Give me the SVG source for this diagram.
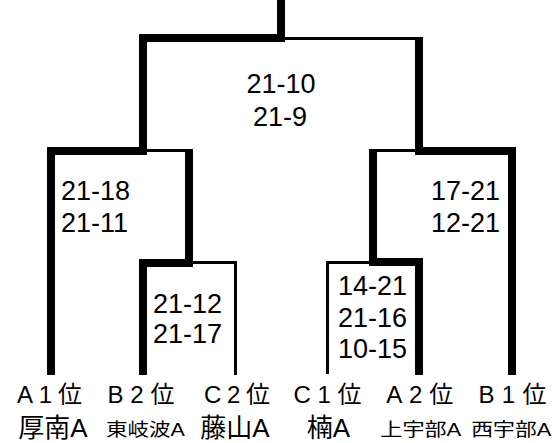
<svg xmlns="http://www.w3.org/2000/svg" width="554" height="443" viewBox="0 0 554 443">
<style>
.bg{fill:#ffffff}
.ln{fill:#000000}
.score{font-family:"Liberation Sans","Noto Sans CJK JP",sans-serif;font-size:27px;fill:#000000}
.seed{font-family:"Liberation Sans","Noto Sans CJK JP",sans-serif;font-size:24px;fill:#000000;text-anchor:middle}
.big{font-family:"Liberation Sans","Noto Sans CJK JP",sans-serif;font-size:26px;fill:#000000;text-anchor:middle}
.small{font-family:"Liberation Sans","Noto Sans CJK JP",sans-serif;font-size:18px;fill:#000000;text-anchor:middle}
</style>
<rect class="bg" x="0" y="0" width="554" height="443"/>
<g id="connectors">
  <rect class="ln" x="277" y="0" width="8" height="42"/>
  <rect class="ln" x="139" y="34" width="146" height="8"/>
  <rect class="ln" x="285" y="37" width="138" height="3"/>
  <rect class="ln" x="139" y="34" width="8" height="121"/>
  <rect class="ln" x="415" y="37" width="8" height="118"/>
  <rect class="ln" x="47" y="147" width="100" height="8"/>
  <rect class="ln" x="147" y="149" width="46" height="3"/>
  <rect class="ln" x="47" y="147" width="8" height="228"/>
  <rect class="ln" x="185" y="149" width="8" height="118"/>
  <rect class="ln" x="139" y="259" width="54" height="8"/>
  <rect class="ln" x="193" y="261" width="44" height="3"/>
  <rect class="ln" x="139" y="259" width="8" height="116"/>
  <rect class="ln" x="234" y="261" width="3" height="114"/>
  <rect class="ln" x="415" y="147" width="101" height="8"/>
  <rect class="ln" x="369" y="149" width="46" height="3"/>
  <rect class="ln" x="369" y="149" width="8" height="117"/>
  <rect class="ln" x="508" y="147" width="8" height="228"/>
  <rect class="ln" x="369" y="258" width="54" height="8"/>
  <rect class="ln" x="326" y="261" width="43" height="3"/>
  <rect class="ln" x="326" y="261" width="3" height="113"/>
  <rect class="ln" x="415" y="258" width="8" height="117"/>
</g>
<g id="scores">
  <g id="score-final">
    <text class="score" x="281" y="93" text-anchor="middle">21-10</text>
    <text class="score" x="280" y="126" text-anchor="middle">21-9</text>
  </g>
  <g id="score-left-semi">
    <text class="score" x="61" y="200">21-18</text>
    <text class="score" x="61" y="231.5">21-11</text>
  </g>
  <g id="score-right-semi">
    <text class="score" x="431" y="200">17-21</text>
    <text class="score" x="431" y="231.5">12-21</text>
  </g>
  <g id="score-left-r1">
    <text class="score" x="153" y="312.5">21-12</text>
    <text class="score" x="153" y="343.3">21-17</text>
  </g>
  <g id="score-right-r1">
    <text class="score" x="338" y="294.5">14-21</text>
    <text class="score" x="338" y="326.5">21-16</text>
    <text class="score" x="338" y="358.3">10-15</text>
  </g>
</g>
<g id="team-a1">
  <text class="seed" x="49.5" y="403" textLength="65" lengthAdjust="spacing">A1位</text>
  <text class="big" x="53" y="436.5">厚南A</text>
</g>
<g id="team-b2">
  <text class="seed" x="141" y="403" textLength="67" lengthAdjust="spacing">B2位</text>
  <text class="small" x="145.5" y="435.5" textLength="79" lengthAdjust="spacingAndGlyphs">東岐波A</text>
</g>
<g id="team-c2">
  <text class="seed" x="237" y="403" textLength="66" lengthAdjust="spacing">C2位</text>
  <text class="big" x="235" y="436.5">藤山A</text>
</g>
<g id="team-c1">
  <text class="seed" x="327.5" y="403" textLength="68" lengthAdjust="spacing">C1位</text>
  <text class="big" x="328.3" y="436.5">楠A</text>
</g>
<g id="team-a2">
  <text class="seed" x="419.7" y="403" textLength="67" lengthAdjust="spacing">A2位</text>
  <text class="small" x="420.8" y="435.5" textLength="81" lengthAdjust="spacingAndGlyphs">上宇部A</text>
</g>
<g id="team-b1">
  <text class="seed" x="512.5" y="403" textLength="68" lengthAdjust="spacing">B1位</text>
  <text class="small" x="511.3" y="435.5" textLength="80" lengthAdjust="spacingAndGlyphs">西宇部A</text>
</g>
</svg>
